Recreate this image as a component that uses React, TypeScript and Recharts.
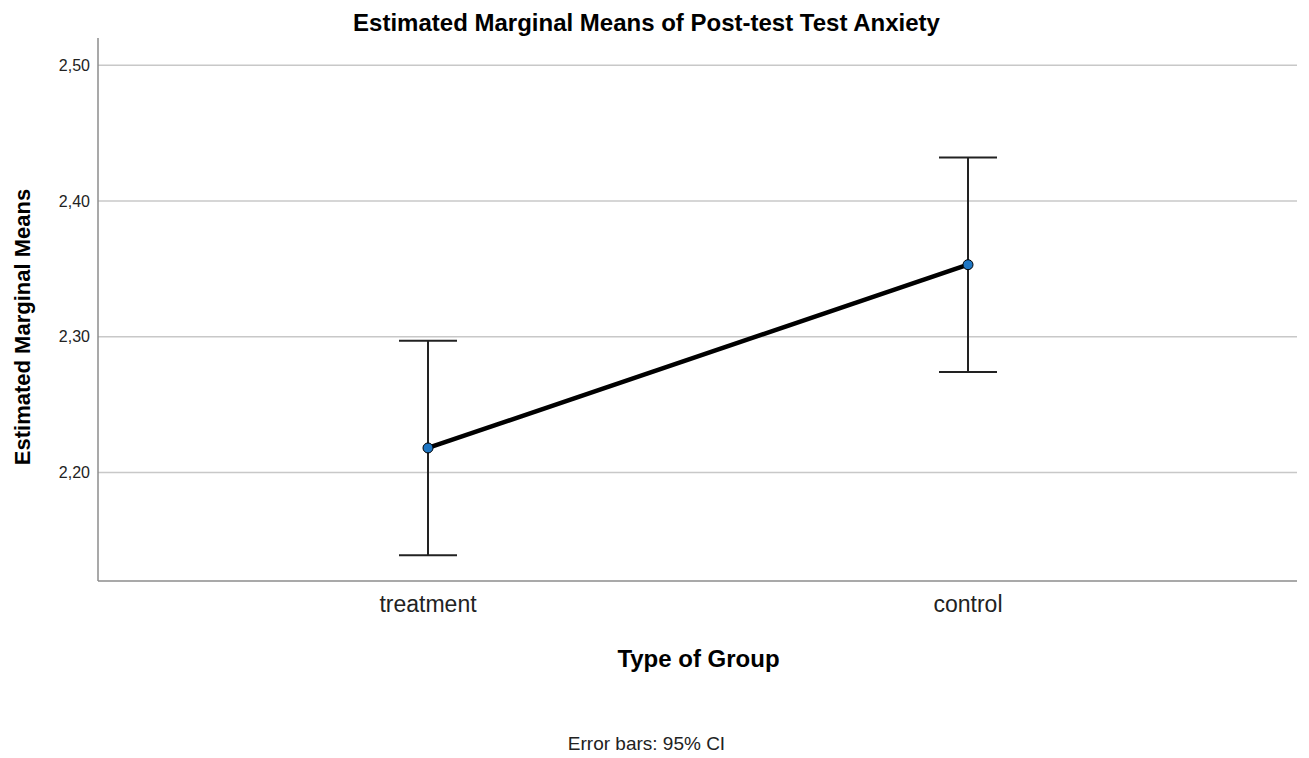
import React from "react";
import {
  LineChart,
  Line,
  XAxis,
  YAxis,
  ReferenceLine,
  ErrorBar,
} from "recharts";

const groups = ["treatment", "control"];
const means = [2.218, 2.353];
const ciLow = [2.139, 2.274];
const ciHigh = [2.297, 2.432];
const yTicks = [2.2, 2.3, 2.4, 2.5];

const FONT = "'Liberation Sans', Arial, sans-serif";

const chartData = groups.map((g, i) => ({
  group: g,
  mean: means[i],
  ci: [means[i] - ciLow[i], ciHigh[i] - means[i]],
}));

function formatTick(v: number): string {
  // SPSS style decimal comma
  return v.toFixed(2).replace(".", ",");
}

export default function App() {
  return (
    <div
      style={{
        position: "absolute",
        left: 0,
        top: 0,
        width: 1309,
        height: 758,
        background: "#fff",
        fontFamily: FONT,
      }}
    >
      <div
        style={{
          position: "absolute",
          top: 9,
          left: 0,
          width: 1293,
          textAlign: "center",
          fontSize: 24,
          lineHeight: "normal",
          fontWeight: "bold",
          color: "#000",
        }}
      >
        Estimated Marginal Means of Post-test Test Anxiety
      </div>
      <LineChart
        width={1309}
        height={758}
        data={chartData}
        margin={{ top: 38, right: 12, bottom: 137, left: 38 }}
      >
        {yTicks.map((t) => (
          <ReferenceLine key={t} y={t} stroke="#c8c8c8" strokeWidth={1.5} />
        ))}
        <XAxis
          dataKey="group"
          height={40}
          padding={{ left: 330, right: 329 }}
          tickLine={false}
          tickMargin={9}
          axisLine={{ stroke: "#8c8c8c", strokeWidth: 1.5 }}
          tick={{ fontSize: 23, fill: "#222", fontFamily: FONT }}
        />
        <YAxis
          width={60}
          domain={[2.12, 2.52]}
          ticks={yTicks}
          tickFormatter={formatTick}
          tickLine={false}
          axisLine={{ stroke: "#8c8c8c", strokeWidth: 1.5 }}
          tick={{ fontSize: 16, fill: "#222", fontFamily: FONT }}
        />
        <Line
          dataKey="mean"
          stroke="#000"
          strokeWidth={4.5}
          isAnimationActive={false}
          dot={{ r: 5, fill: "#1f77c4", stroke: "#000", strokeWidth: 1 }}
          activeDot={false}
        >
          <ErrorBar
            dataKey="ci"
            width={29}
            stroke="#222"
            strokeWidth={2}
            direction="y"
            isAnimationActive={false}
          />
        </Line>
      </LineChart>
      <div
        style={{
          position: "absolute",
          left: 23,
          top: 327,
          transform: "translate(-50%, -50%) rotate(-90deg)",
          whiteSpace: "nowrap",
          fontSize: 22,
          lineHeight: "normal",
          fontWeight: "bold",
          color: "#000",
        }}
      >
        Estimated Marginal Means
      </div>
      <div
        style={{
          position: "absolute",
          top: 645,
          left: 98,
          width: 1201,
          textAlign: "center",
          fontSize: 24,
          lineHeight: "normal",
          fontWeight: "bold",
          color: "#000",
        }}
      >
        Type of Group
      </div>
      <div
        style={{
          position: "absolute",
          top: 733,
          left: 0,
          width: 1293,
          textAlign: "center",
          fontSize: 19,
          lineHeight: "normal",
          color: "#222",
        }}
      >
        Error bars: 95% CI
      </div>
    </div>
  );
}
